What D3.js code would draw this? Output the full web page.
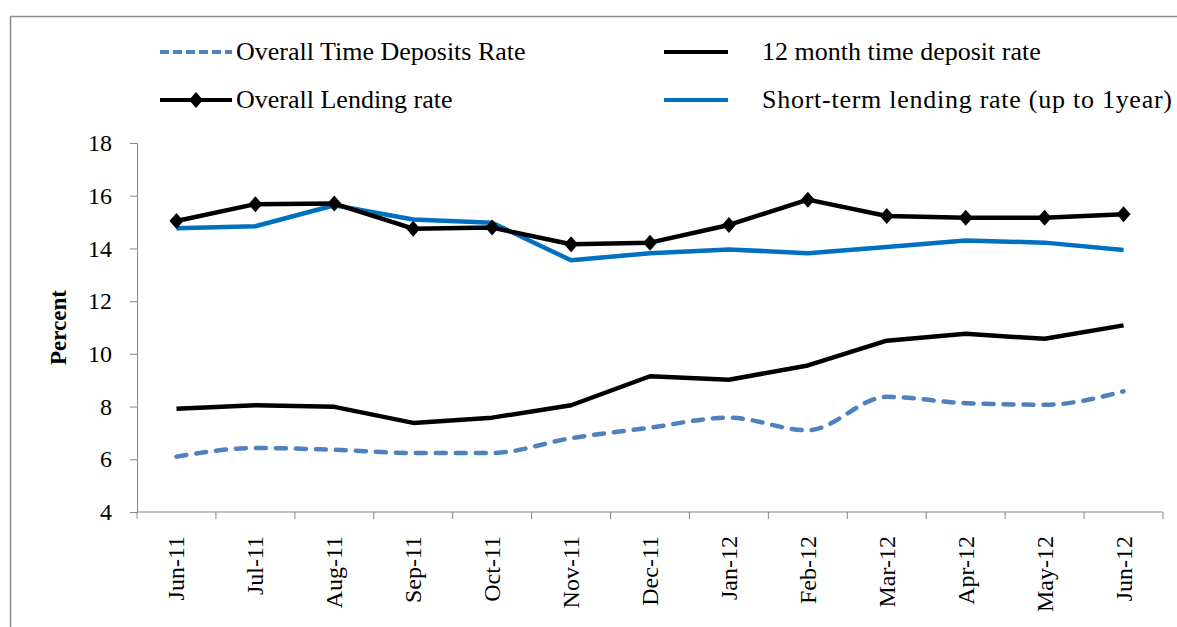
<!DOCTYPE html>
<html>
<head>
<meta charset="utf-8">
<script src="https://cdn.jsdelivr.net/npm/d3@7/dist/d3.min.js"></script>
<style>
  body { margin: 0; background: #fff; }
  text { font-family: "Liberation Serif", "Times New Roman", serif; fill: #000; }
</style>
</head>
<body>
<div id="chart"></div>
<script>
// Data
const months = ["Jun-11", "Jul-11", "Aug-11", "Sep-11", "Oct-11", "Nov-11", "Dec-11",
                "Jan-12", "Feb-12", "Mar-12", "Apr-12", "May-12", "Jun-12"];
const overallTimeDeposits = [6.1, 6.43, 6.36, 6.24, 6.24, 6.8, 7.2, 7.58, 7.1, 8.37, 8.13, 8.07, 8.58];
const twelveMonthDeposit = [7.92, 8.05, 7.99, 7.38, 7.58, 8.05, 9.15, 9.02, 9.56, 10.5, 10.76, 10.57, 11.08];
const overallLending = [15.04, 15.68, 15.7, 14.75, 14.79, 14.16, 14.22, 14.89, 15.85, 15.23, 15.16, 15.16, 15.3];
const shortTermLending = [14.77, 14.84, 15.64, 15.1, 14.97, 13.55, 13.82, 13.96, 13.82, 14.05, 14.3, 14.22, 13.94];
const yTicks = [4, 6, 8, 10, 12, 14, 16, 18];

const width = 1177, height = 627;
const margin = { left: 137, right: 14, top: 143, bottom: 115 };

const svg = d3.select("#chart").append("svg")
    .attr("width", width)
    .attr("height", height);

// outer frame
svg.append("rect")
    .attr("x", 10.5).attr("y", 16.5)
    .attr("width", width + 20).attr("height", height + 20)
    .attr("fill", "none")
    .attr("stroke", "#8c8c8c")
    .attr("stroke-width", 1.5);

const x = d3.scalePoint()
    .domain(months)
    .range([margin.left, width - margin.right])
    .padding(0.5);

const xBand = d3.scaleBand()
    .domain(months)
    .range([margin.left, width - margin.right]);

const y = d3.scaleLinear()
    .domain([4, 18])
    .range([height - margin.bottom, margin.top]);

const axisColor = "#868686";

// y axis
const yAxis = svg.append("g")
    .attr("transform", `translate(${margin.left},0)`)
    .call(d3.axisLeft(y).tickValues(yTicks).tickSize(7).tickPadding(18));
yAxis.select(".domain").attr("stroke", axisColor);
yAxis.selectAll(".tick line").attr("stroke", axisColor);
yAxis.selectAll(".tick text")
    .style("font-family", "'Liberation Serif', serif")
    .style("font-size", "24px")
    .attr("fill", "#000");

// x axis: baseline, boundary ticks, rotated labels
const x0 = y(4);
svg.append("line")
    .attr("x1", margin.left).attr("x2", width - margin.right)
    .attr("y1", x0).attr("y2", x0)
    .attr("stroke", axisColor);

const boundaries = months.map(m => xBand(m)).concat([xBand.range()[1]]);
svg.append("g").selectAll("line")
    .data(boundaries)
    .join("line")
    .attr("x1", d => d).attr("x2", d => d)
    .attr("y1", x0).attr("y2", x0 + 7)
    .attr("stroke", axisColor);

svg.append("g").selectAll("text")
    .data(months)
    .join("text")
    .attr("transform", d => `translate(${x(d) + 8},${x0 + 24}) rotate(-90)`)
    .attr("text-anchor", "end")
    .style("font-size", "24px")
    .text(d => d);

// y axis title
svg.append("text")
    .attr("transform", `translate(${66},${(y(4) + y(18)) / 2}) rotate(-90)`)
    .attr("text-anchor", "middle")
    .style("font-size", "23px")
    .style("font-weight", "bold")
    .text("Percent");

// lines
const straight = d3.line()
    .x((d, i) => x(months[i]))
    .y(d => y(d));

const smooth = d3.line()
    .x((d, i) => x(months[i]))
    .y(d => y(d))
    .curve(d3.curveMonotoneX);

svg.append("path")
    .datum(overallTimeDeposits)
    .attr("d", smooth)
    .attr("fill", "none")
    .attr("stroke", "#4F81BD")
    .attr("stroke-width", 4.5)
    .attr("stroke-linecap", "round")
    .attr("stroke-dasharray", "10,10");

svg.append("path")
    .datum(twelveMonthDeposit)
    .attr("d", straight)
    .attr("fill", "none")
    .attr("stroke", "#000")
    .attr("stroke-width", 4.5)
    .attr("stroke-linejoin", "round");

svg.append("path")
    .datum(shortTermLending)
    .attr("d", straight)
    .attr("fill", "none")
    .attr("stroke", "#0070C0")
    .attr("stroke-width", 4.5)
    .attr("stroke-linejoin", "round");

svg.append("path")
    .datum(overallLending)
    .attr("d", straight)
    .attr("fill", "none")
    .attr("stroke", "#000")
    .attr("stroke-width", 4.5)
    .attr("stroke-linejoin", "round");

const diamond = (cx, cy) => `M${cx},${cy - 8}L${cx + 7},${cy}L${cx},${cy + 8}L${cx - 7},${cy}Z`;

svg.append("g").selectAll("path")
    .data(overallLending)
    .join("path")
    .attr("d", (d, i) => diamond(x(months[i]), y(d)))
    .attr("fill", "#000");

// legend
const legend = svg.append("g");
const legendItems = [
  { label: "Overall Time Deposits Rate", lx: 160, ly: 52, len: 72, tx: 236, color: "#4F81BD", dash: "9,4", marker: false, fit: null },
  { label: "Overall Lending rate", lx: 160, ly: 100, len: 72, tx: 236, color: "#000", dash: null, marker: true, fit: null },
  { label: "12 month time deposit rate", lx: 664, ly: 52, len: 64, tx: 762, color: "#000", dash: null, marker: false, fit: null },
  { label: "Short-term lending rate (up to 1year)", lx: 664, ly: 100, len: 64, tx: 762, color: "#0070C0", dash: null, marker: false, fit: 410 }
];

legendItems.forEach(it => {
  legend.append("line")
      .attr("x1", it.lx).attr("x2", it.lx + it.len)
      .attr("y1", it.ly).attr("y2", it.ly)
      .attr("stroke", it.color)
      .attr("stroke-width", 4)
      .attr("stroke-dasharray", it.dash);
  if (it.marker) {
    legend.append("path")
        .attr("d", diamond(it.lx + it.len / 2, it.ly))
        .attr("fill", "#000");
  }
  const t = legend.append("text")
      .attr("x", it.tx)
      .attr("y", it.ly + 8)
      .style("font-size", "26px")
      .text(it.label);
  if (it.fit) t.attr("textLength", it.fit).attr("lengthAdjust", "spacing");
});
</script>
</body>
</html>
